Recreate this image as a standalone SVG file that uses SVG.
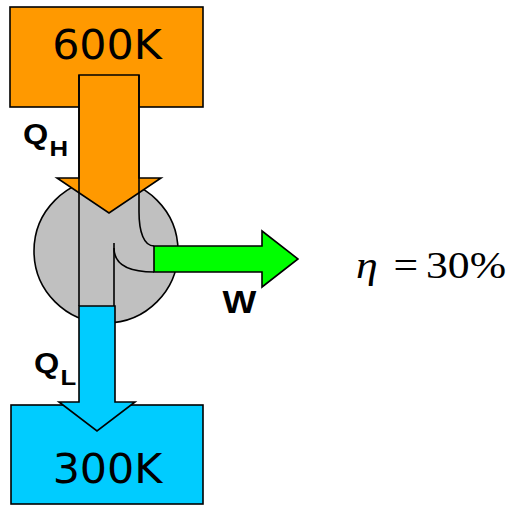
<svg xmlns="http://www.w3.org/2000/svg" width="516" height="505" viewBox="0 0 516 505">
<style>
.ln{fill:none;stroke:#000;stroke-width:1.6;stroke-linejoin:miter}
.box{stroke:#000;stroke-width:1.6}
.big{font-family:"DejaVu Sans",Verdana,sans-serif;font-size:40px;fill:#000}
.lbl{font-family:"Liberation Sans",Arial,sans-serif;font-weight:bold;fill:#000}
</style>
<rect width="516" height="505" fill="#fff"/>
<g id="hot">
<rect class="box" x="10" y="7" width="193" height="100" fill="#FF9900"/>
<text class="big" transform="translate(107,59) scale(1.07,1)" text-anchor="middle">600K</text>
</g>
<g id="cold">
<rect class="box" x="11" y="405" width="192" height="99" fill="#00CCFF"/>
<text class="big" transform="translate(107.5,483) scale(1.07,1)" text-anchor="middle">300K</text>
</g>
<g id="engine">
<circle cx="106" cy="251" r="72" fill="#C0C0C0" stroke="#000" stroke-width="1.6"/>
</g>
<g id="connectors">
<polygon id="qh-arrow" class="box" fill="#FF9900" points="79,75 139,75 139,178 161,178 109,213 57,178 79,178"/>
<polygon id="w-arrow" class="box" fill="#00FF00" points="154,246 262,246 262,231 298,259 262,287 262,272 154,272"/>
<polygon id="ql-arrow" class="box" fill="#00CCFF" points="79,306 115,306 115,402 135,402 97,431 59,402 79,402"/>
<path class="ln" d="M79,75 L79,306"/>
<path class="ln" d="M139,75 L139,212 C139,232 144,246 154,246"/>
<path class="ln" d="M114,243 L114,306"/>
<path class="ln" d="M114,248 C114,265 130,272 154,272"/>
</g>
<g id="labels">
<text class="lbl" transform="translate(23,144) scale(1.12,1)" style="font-size:29px">Q</text>
<text class="lbl" transform="translate(49.5,156) scale(1.12,1)" style="font-size:23px">H</text>
<text class="lbl" transform="translate(34,373) scale(1.12,1)" style="font-size:29px">Q</text>
<text class="lbl" transform="translate(60.5,385) scale(1.12,1)" style="font-size:23px">L</text>
<text class="lbl" transform="translate(239.5,313) scale(1.12,1)" text-anchor="middle" style="font-size:32px">W</text>
</g>
<g id="efficiency" font-family="'Liberation Serif', 'Times New Roman', 'DejaVu Serif', serif" font-size="38" fill="#000">
<text transform="translate(356,278) scale(1.15,1)" font-style="italic">η</text>
<text transform="translate(393.5,278) scale(1.15,1)">=</text>
<text transform="translate(426,278) scale(1.15,1)">30%</text>
</g>
</svg>
